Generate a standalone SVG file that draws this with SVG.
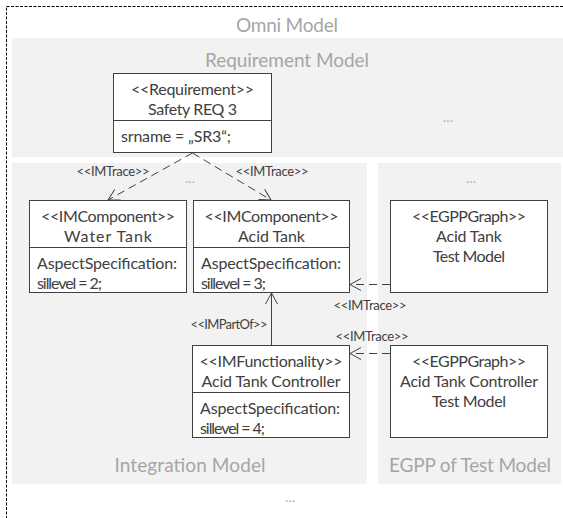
<svg xmlns="http://www.w3.org/2000/svg" width="563" height="518" viewBox="0 0 563 518">
<defs>
<style>
.panel{fill:#f2f2f2;stroke:none}
.title{font-family:Lato,"Liberation Sans",sans-serif;font-size:19px;fill:#a6a6a6;text-anchor:middle}
.dots{font-family:Lato,"Liberation Sans",sans-serif;font-size:14px;fill:#b0b0b0;text-anchor:middle}
.box{fill:#fff;stroke:#404040;stroke-width:1}
.t{font-family:Lato,"Liberation Sans",sans-serif;font-size:16px;fill:#404040;text-anchor:middle}
.tl{font-family:Lato,"Liberation Sans",sans-serif;font-size:16px;fill:#404040}
.lbl{font-family:Lato,"Liberation Sans",sans-serif;font-size:13px;fill:#404040;text-anchor:middle}
.dash{fill:none;stroke:#404040;stroke-width:1;stroke-dasharray:8,5}
.solid{fill:none;stroke:#404040;stroke-width:1}
</style>
<marker id="open" viewBox="-12 -8 14 16" markerWidth="14" markerHeight="16" refX="0" refY="0" orient="auto" markerUnits="userSpaceOnUse">
<path d="M-11,-6 L0,0 L-11,6" fill="none" stroke="#404040" stroke-width="1"/>
</marker>
</defs>
<rect x="0" y="0" width="563" height="518" fill="#fff"/>
<g id="omni">
<rect x="6.5" y="6.5" width="570" height="530" fill="none" stroke="#000" stroke-width="1" stroke-dasharray="3,1.5"/>
<text class="title" x="287" y="32" textLength="102">Omni Model</text>
<text class="dots" x="290" y="502">...</text>
</g>
<g id="requirement-model">
<rect class="panel" x="12" y="38" width="551" height="119"/>
<text class="title" x="287" y="67" textLength="164">Requirement Model</text>
<text class="dots" x="448" y="122">...</text>
</g>
<g id="integration-model">
<rect class="panel" x="12" y="163" width="355" height="321"/>
<text class="title" x="190" y="472" textLength="151">Integration Model</text>
<text class="dots" x="190" y="183">...</text>
</g>
<g id="egpp-model">
<rect class="panel" x="378" y="163" width="183" height="321"/>
<text class="title" x="470" y="472" textLength="162">EGPP of Test Model</text>
<text class="dots" x="471" y="183">...</text>
</g>
<g id="safety-req-3">
<rect class="box" x="113.5" y="73.5" width="158" height="79"/>
<line class="solid" x1="113.5" y1="120.5" x2="271.5" y2="120.5"/>
<text class="t" x="192.5" y="95" textLength="123">&lt;&lt;Requirement&gt;&gt;</text>
<text class="t" x="192.5" y="115" textLength="89">Safety REQ 3</text>
<text class="tl" x="121" y="142" textLength="110">srname = „SR3“;</text>
</g>
<g id="water-tank">
<rect class="box" x="29.5" y="200.5" width="157" height="92"/>
<line class="solid" x1="29.5" y1="247.5" x2="186.5" y2="247.5"/>
<text class="t" x="108" y="222" textLength="134">&lt;&lt;IMComponent&gt;&gt;</text>
<text class="t" x="108" y="242" textLength="88">Water Tank</text>
<text class="tl" x="37" y="269" textLength="140">AspectSpecification:</text>
<text class="tl" x="37" y="289" textLength="65">sillevel = 2;</text>
</g>
<g id="acid-tank">
<rect class="box" x="193.5" y="200.5" width="156" height="92"/>
<line class="solid" x1="193.5" y1="247.5" x2="349.5" y2="247.5"/>
<text class="t" x="271.5" y="222" textLength="134">&lt;&lt;IMComponent&gt;&gt;</text>
<text class="t" x="271.5" y="242" textLength="67">Acid Tank</text>
<text class="tl" x="201" y="269" textLength="140">AspectSpecification:</text>
<text class="tl" x="201" y="289" textLength="65">sillevel = 3;</text>
</g>
<g id="acid-tank-controller">
<rect class="box" x="192.5" y="345.5" width="157" height="92"/>
<line class="solid" x1="192.5" y1="392.5" x2="349.5" y2="392.5"/>
<text class="t" x="271" y="367" textLength="143">&lt;&lt;IMFunctionality&gt;&gt;</text>
<text class="t" x="271" y="387" textLength="139">Acid Tank Controller</text>
<text class="tl" x="200" y="414" textLength="140">AspectSpecification:</text>
<text class="tl" x="200" y="434" textLength="65">sillevel = 4;</text>
</g>
<g id="acid-tank-test-model">
<rect class="box" x="390.5" y="200.5" width="157" height="92"/>
<text class="t" x="469" y="222" textLength="114">&lt;&lt;EGPPGraph&gt;&gt;</text>
<text class="t" x="469" y="242" textLength="66">Acid Tank</text>
<text class="t" x="469" y="262" textLength="72">Test Model</text>
</g>
<g id="acid-tank-controller-test-model">
<rect class="box" x="390.5" y="345.5" width="157" height="92"/>
<text class="t" x="469" y="367" textLength="114">&lt;&lt;EGPPGraph&gt;&gt;</text>
<text class="t" x="469" y="387" textLength="138">Acid Tank Controller</text>
<text class="t" x="469" y="407" textLength="74">Test Model</text>
</g>
<g id="connectors">
<line class="dash" x1="192.5" y1="153" x2="108" y2="200" marker-end="url(#open)"/>
<text class="lbl" x="113" y="176" textLength="73">&lt;&lt;IMTrace&gt;&gt;</text>
<line class="dash" x1="192.5" y1="153" x2="271" y2="200" marker-end="url(#open)"/>
<text class="lbl" x="272" y="176" textLength="73">&lt;&lt;IMTrace&gt;&gt;</text>
<line class="dash" x1="390" y1="284.5" x2="350" y2="284.5" marker-end="url(#open)"/>
<text class="lbl" x="370" y="310" textLength="73">&lt;&lt;IMTrace&gt;&gt;</text>
<line class="solid" x1="271.5" y1="345" x2="271.5" y2="293" marker-end="url(#open)"/>
<text class="lbl" x="229" y="329" textLength="77">&lt;&lt;IMPartOf&gt;&gt;</text>
<line class="dash" x1="390" y1="353.5" x2="350" y2="353.5" marker-end="url(#open)"/>
<text class="lbl" x="372" y="341" textLength="73">&lt;&lt;IMTrace&gt;&gt;</text>
</g>
</svg>
